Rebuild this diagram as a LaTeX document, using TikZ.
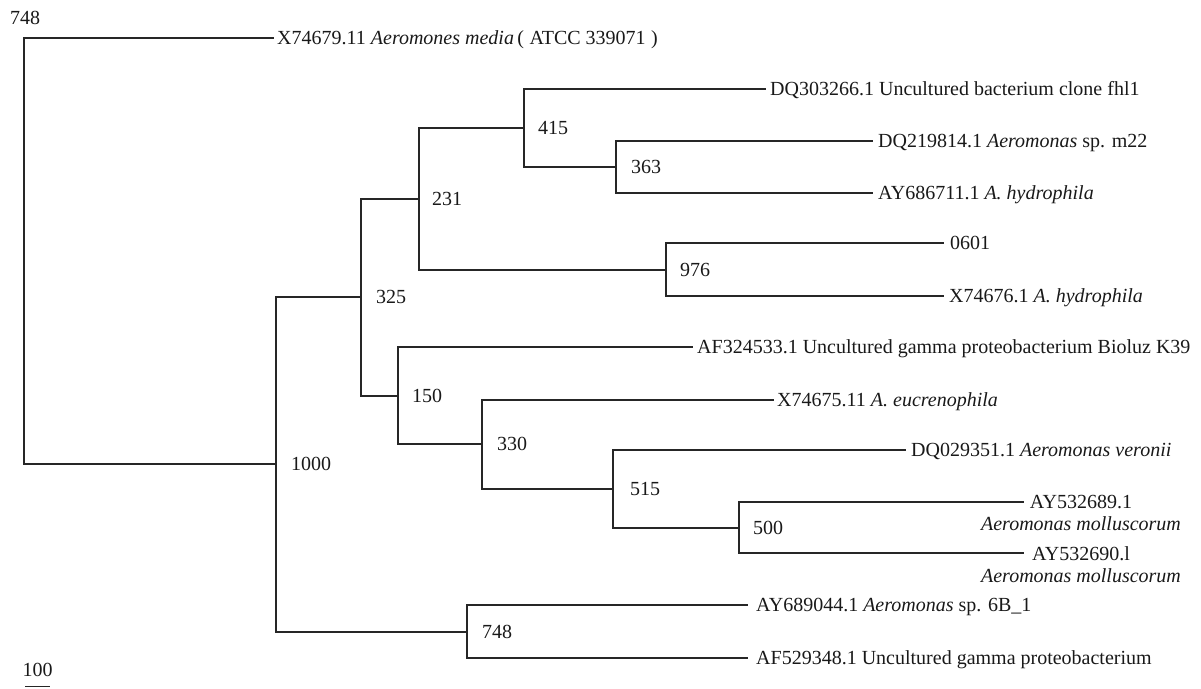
\documentclass[tikz,border=0pt]{standalone}
\usepackage{fontspec}
\setmainfont{Liberation Serif}
\begin{document}
\begin{tikzpicture}[x=1pt,y=-1pt,
  br/.style={line width=1.6pt, line join=miter, line cap=rect, draw=black!85},
  txt/.style={inner sep=0pt, text height=13.2pt, text depth=0pt, font=\fontsize{20}{22}\selectfont, text=black!90},
  leaf/.style={txt, anchor=west},
  boot/.style={txt, anchor=west},
  twoleaf/.style={anchor=north, inner sep=0pt, align=center, font=\fontsize{20}{22}\selectfont, text=black!90}]
\useasboundingbox (0,0) rectangle (1201,688);

% internal nodes
\coordinate (root) at (24,251);
\coordinate (n1000) at (276,464);
\coordinate (n325) at (361,297);
\coordinate (n231) at (419,199);
\coordinate (n415) at (524,128);
\coordinate (n363) at (616,167);
\coordinate (n976) at (666,270);
\coordinate (n150) at (398,396);
\coordinate (n330) at (482,444);
\coordinate (n515) at (613,489);
\coordinate (n500) at (739,528);
\coordinate (n748) at (467,632);

% leaf ends
\coordinate (e1) at (273,38);
\coordinate (e2) at (765,89);
\coordinate (e3) at (872,141);
\coordinate (e4) at (872,193);
\coordinate (e5) at (943,243);
\coordinate (e6) at (943,296);
\coordinate (e7) at (692,347);
\coordinate (e8) at (773,400);
\coordinate (e9) at (905,450);
\coordinate (e10) at (1023,502);
\coordinate (e11) at (1023,553);
\coordinate (e12) at (747,605);
\coordinate (e13) at (747,658);

% branches
\draw[br] (root) |- (e1);
\draw[br] (root) |- (n1000);
\draw[br] (n1000) |- (n325);
\draw[br] (n1000) |- (n748);
\draw[br] (n325) |- (n231);
\draw[br] (n325) |- (n150);
\draw[br] (n231) |- (n415);
\draw[br] (n231) |- (n976);
\draw[br] (n415) |- (e2);
\draw[br] (n415) |- (n363);
\draw[br] (n363) |- (e3);
\draw[br] (n363) |- (e4);
\draw[br] (n976) |- (e5);
\draw[br] (n976) |- (e6);
\draw[br] (n150) |- (e7);
\draw[br] (n150) |- (n330);
\draw[br] (n330) |- (e8);
\draw[br] (n330) |- (n515);
\draw[br] (n515) |- (e9);
\draw[br] (n515) |- (n500);
\draw[br] (n500) |- (e10);
\draw[br] (n500) |- (e11);
\draw[br] (n748) |- (e12);
\draw[br] (n748) |- (e13);

% leaf labels
\node[leaf] (t1) at ([xshift=4pt]e1) {X74679.11 \textit{Aeromones media}\,(\;ATCC 339071\;)};
\node[leaf] (t2) at ([xshift=5pt]e2) {DQ303266.1 Uncultured bacterium clone fhl1};
\node[leaf] (t3) at ([xshift=6pt]e3) {DQ219814.1 \textit{Aeromonas} sp. m22};
\node[leaf] (t4) at ([xshift=6pt]e4) {AY686711.1 \textit{A. hydrophila}};
\node[leaf] (t5) at ([xshift=7pt]e5) {0601};
\node[leaf] (t6) at ([xshift=6pt]e6) {X74676.1 \textit{A. hydrophila}};
\node[leaf] (t7) at ([xshift=5pt]e7) {AF324533.1 Uncultured gamma proteobacterium Bioluz K39};
\node[leaf] (t8) at ([xshift=4pt]e8) {X74675.11 \textit{A. eucrenophila}};
\node[leaf] (t9) at ([xshift=6pt]e9) {DQ029351.1 \textit{Aeromonas veronii}};
\node[twoleaf] (t10) at (1081,495.4) {AY532689.1\\\textit{Aeromonas molluscorum}};
\node[twoleaf] (t11) at (1081,546.4) {AY532690.l\\\textit{Aeromonas molluscorum}};
\node[leaf] (t12) at ([xshift=9pt]e12) {AY689044.1 \textit{Aeromonas} sp. 6B\_1};
\node[leaf] (t13) at ([xshift=9pt]e13) {AF529348.1 Uncultured gamma proteobacterium};

% bootstrap values
\node[txt] (b748top) at (25,18) {748};
\node[boot] (b1000) at ([xshift=15pt]n1000) {1000};
\node[boot] (b325) at ([xshift=15pt]n325) {325};
\node[boot] (b231) at ([xshift=13pt]n231) {231};
\node[boot] (b415) at ([xshift=14pt]n415) {415};
\node[boot] (b363) at ([xshift=15pt]n363) {363};
\node[boot] (b976) at ([xshift=14pt]n976) {976};
\node[boot] (b150) at ([xshift=14pt]n150) {150};
\node[boot] (b330) at ([xshift=15pt]n330) {330};
\node[boot] (b515) at ([xshift=17pt]n515) {515};
\node[boot] (b500) at ([xshift=14pt]n500) {500};
\node[boot] (b748) at ([xshift=15pt]n748) {748};

% scale bar
\node[txt] (s100) at (37.5,670) {100};
\coordinate (sa) at (25,686.5);
\coordinate (sb) at (50,686.5);
\draw[line width=1.6pt, draw=black!85] (sa) -- (sb);
\end{tikzpicture}
\end{document}
